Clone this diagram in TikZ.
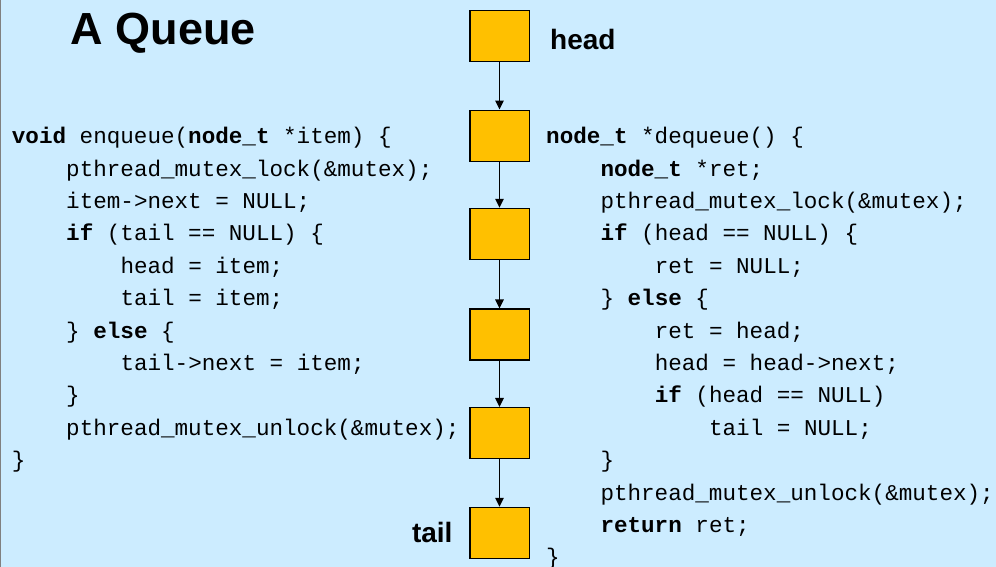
\documentclass[tikz,border=0pt]{standalone}
\usepackage{fontspec}
\setmainfont{Liberation Sans}
\setmonofont{Liberation Mono}
\usetikzlibrary{arrows.meta}
\definecolor{bgblue}{RGB}{204,236,255}
\definecolor{qorange}{RGB}{255,192,0}
\begin{document}
\begin{tikzpicture}[x=1pt,y=-1pt,
  qbox/.style={draw=black, line width=1.5pt, fill=qorange, minimum width=59.5pt, minimum height=51pt, inner sep=0pt},
  link/.style={line width=1.4pt, -{Triangle[length=9pt,width=8.5pt]}},
  code/.style={anchor=base west, inner sep=0pt, font=\ttfamily\fontsize{22.6}{27}\selectfont},
  lbl/.style={inner sep=0pt, font=\bfseries\fontsize{28}{32}\selectfont},
  title/.style={inner sep=0pt, anchor=base west, font=\bfseries\fontsize{45}{50}\selectfont}]
\useasboundingbox (0,0) rectangle (996,567);
\fill[bgblue] (0,0) rectangle (996,567);
\draw[gray, line width=2pt] (0,0) -- (0,567);

\node[title] (ttl) at (70.5,45) {A Queue};

% queue boxes
\node[qbox] (q1) at (499.5,36.2) {};
\node[qbox] (q2) at (499.5,135.8) {};
\node[qbox] (q3) at (499.5,234) {};
\node[qbox] (q4) at (499.5,334.7) {};
\node[qbox] (q5) at (499.5,433.2) {};
\node[qbox] (q6) at (499.5,533) {};
\foreach \a/\b in {q1/q2,q2/q3,q3/q4,q4/q5,q5/q6}
  \draw[link] (\a.south) -- (\b.north);

\node[lbl, anchor=base west] (hd) at (550,49.3) {head};
\node[lbl, anchor=base east] (tl) at (452.7,542) {tail};

% enqueue code
\def\lx{11.7}
\def\ind{54.3}
\def\yy#1{143.7+#1*32.4}
\node[code] (e0) at (\lx,{\yy{0}}) {\textbf{void} enqueue(\textbf{node\_t} *item) \{};
\node[code] (e1) at ({\lx+\ind},{\yy{1}}) {pthread\_mutex\_lock(\&mutex);};
\node[code] (e2) at ({\lx+\ind},{\yy{2}}) {item->next = NULL;};
\node[code] (e3) at ({\lx+\ind},{\yy{3}}) {\textbf{if} (tail == NULL) \{};
\node[code] (e4) at ({\lx+2*\ind},{\yy{4}}) {head = item;};
\node[code] (e5) at ({\lx+2*\ind},{\yy{5}}) {tail = item;};
\node[code] (e6) at ({\lx+\ind},{\yy{6}}) {\} \textbf{else} \{};
\node[code] (e7) at ({\lx+2*\ind},{\yy{7}}) {tail->next = item;};
\node[code] (e8) at ({\lx+\ind},{\yy{8}}) {\}};
\node[code] (e9) at ({\lx+\ind},{\yy{9}}) {pthread\_mutex\_unlock(\&mutex);};
\node[code] (e10) at (\lx,{\yy{10}}) {\}};

% dequeue code
\def\rx{546}
\node[code] (d0) at (\rx,{\yy{0}}) {\textbf{node\_t} *dequeue() \{};
\node[code] (d1) at ({\rx+\ind},{\yy{1}}) {\textbf{node\_t} *ret;};
\node[code] (d2) at ({\rx+\ind},{\yy{2}}) {pthread\_mutex\_lock(\&mutex);};
\node[code] (d3) at ({\rx+\ind},{\yy{3}}) {\textbf{if} (head == NULL) \{};
\node[code] (d4) at ({\rx+2*\ind},{\yy{4}}) {ret = NULL;};
\node[code] (d5) at ({\rx+\ind},{\yy{5}}) {\} \textbf{else} \{};
\node[code] (d6) at ({\rx+2*\ind},{\yy{6}}) {ret = head;};
\node[code] (d7) at ({\rx+2*\ind},{\yy{7}}) {head = head->next;};
\node[code] (d8) at ({\rx+2*\ind},{\yy{8}}) {\textbf{if} (head == NULL)};
\node[code] (d9) at ({\rx+3*\ind},{\yy{9}}) {tail = NULL;};
\node[code] (d10) at ({\rx+\ind},{\yy{10}}) {\}};
\node[code] (d11) at ({\rx+\ind},{\yy{11}}) {pthread\_mutex\_unlock(\&mutex);};
\node[code] (d12) at ({\rx+\ind},{\yy{12}}) {\textbf{return} ret;};
\node[code] (d13) at (\rx,{\yy{13}}) {\}};
\end{tikzpicture}
\end{document}
